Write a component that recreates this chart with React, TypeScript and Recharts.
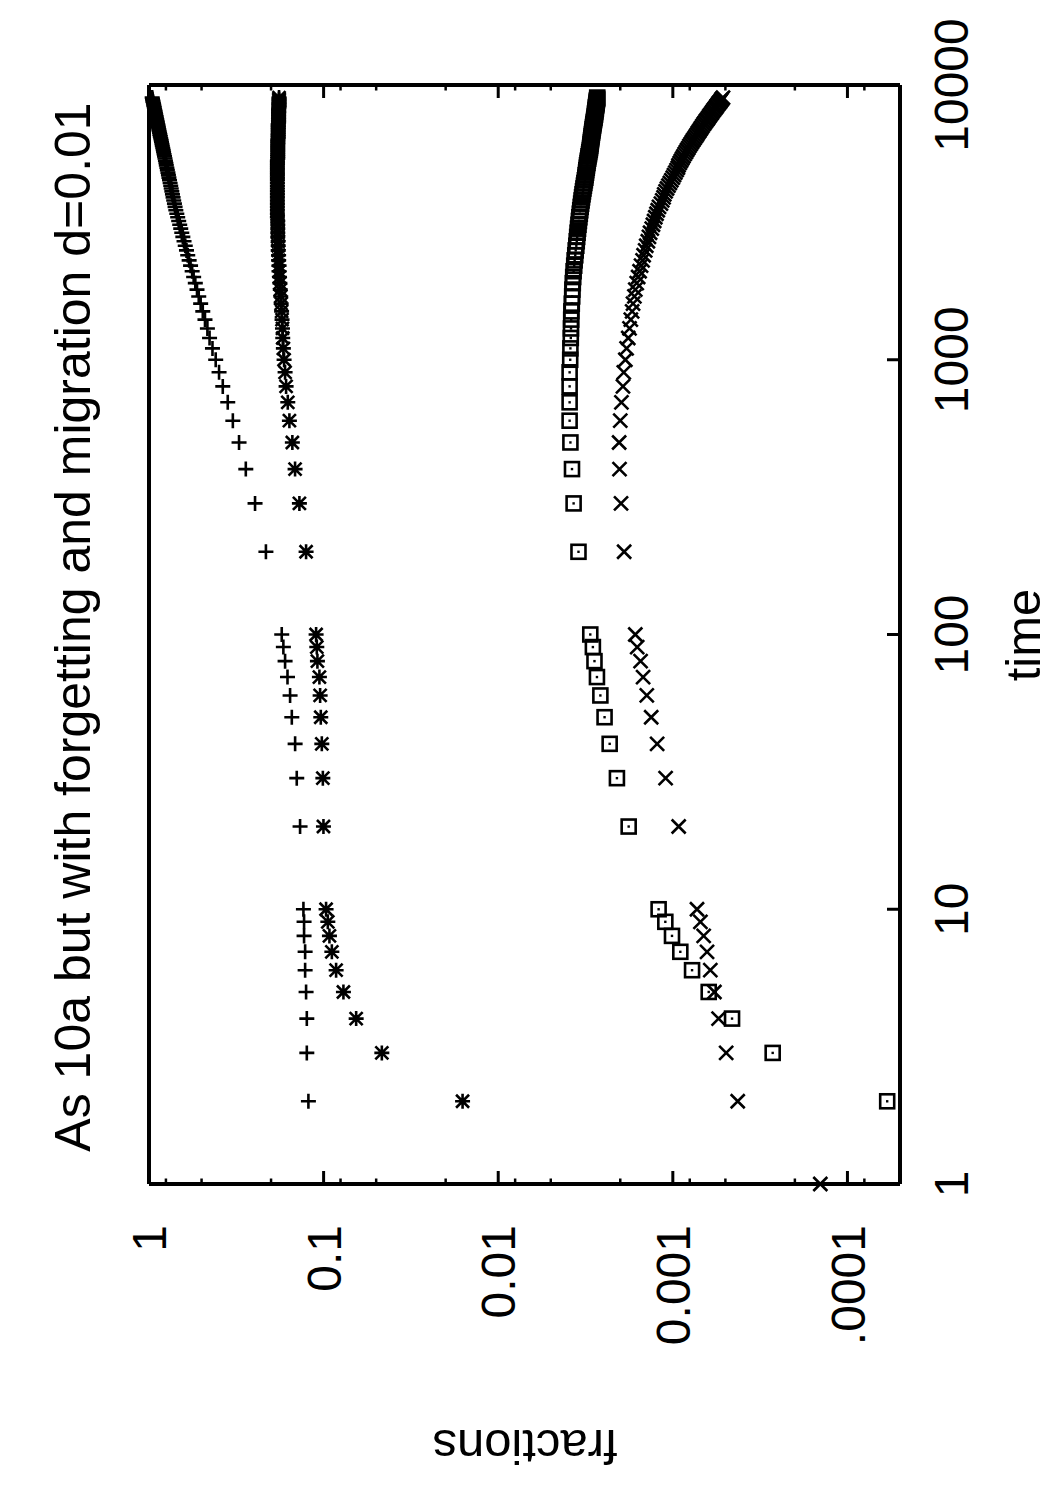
import React from 'react'
import { ScatterChart, Scatter, XAxis, YAxis } from 'recharts'

// gnuplot-style log-log plot, drawn landscape then turned a quarter turn
const FONT = '"Liberation Sans", Arial, Helvetica, sans-serif'

const TIMES = [
  1, 2, 3, 4, 5, 6, 7, 8, 9, 10,
  20, 30, 40, 50, 60, 70, 80, 90, 100,
  200, 300, 400, 500, 600, 700, 800, 900, 1000,
  1100, 1200, 1300, 1400, 1500, 1600, 1700, 1800, 1900, 2000,
  2100, 2200, 2300, 2400, 2500, 2600, 2700, 2800, 2900, 3000,
  3100, 3200, 3300, 3400, 3500, 3600, 3700, 3800, 3900, 4000,
  4100, 4200, 4300, 4400, 4500, 4600, 4700, 4800, 4900, 5000,
  5100, 5200, 5300, 5400, 5500, 5600, 5700, 5800, 5900, 6000,
  6100, 6200, 6300, 6400, 6500, 6600, 6700, 6800, 6900, 7000,
  7100, 7200, 7300, 7400, 7500, 7600, 7700, 7800, 7900, 8000,
  8100, 8200, 8300, 8400, 8500, 8600, 8700, 8800, 8900, 9000,
]

const PLUS = [
  null, 0.1222, 0.1248, 0.1248, 0.126, 0.1276, 0.1276, 0.1294, 0.1294, 0.1305,
  0.1364, 0.1425, 0.1456, 0.1521, 0.1556, 0.161, 0.1662, 0.17, 0.1737,
  0.214, 0.247, 0.279, 0.305, 0.331, 0.354, 0.378, 0.397, 0.415,
  0.433, 0.45, 0.463, 0.478, 0.492, 0.506, 0.519, 0.531, 0.543, 0.555,
  0.566, 0.578, 0.589, 0.6, 0.61, 0.62, 0.63, 0.64, 0.649, 0.658,
  0.667, 0.676, 0.685, 0.693, 0.702, 0.709, 0.715, 0.722, 0.728, 0.734,
  0.74, 0.746, 0.751, 0.757, 0.763, 0.769, 0.774, 0.779, 0.785, 0.79,
  0.796, 0.8, 0.805, 0.81, 0.815, 0.82, 0.825, 0.829, 0.834, 0.839,
  0.843, 0.848, 0.852, 0.857, 0.862, 0.866, 0.87, 0.875, 0.879, 0.883,
  0.887, 0.891, 0.895, 0.899, 0.903, 0.907, 0.911, 0.915, 0.919, 0.923,
  0.926, 0.93, 0.934, 0.937, 0.941, 0.944, 0.949, 0.952, 0.955, 0.959,
]

const STAR = [
  null, 0.016, 0.0464, 0.0651, 0.077, 0.0848, 0.0897, 0.0926, 0.0946, 0.0968,
  0.1002, 0.101, 0.1024, 0.1038, 0.1047, 0.1057, 0.1085, 0.1094, 0.1104,
  0.126, 0.1376, 0.1457, 0.151, 0.157, 0.1604, 0.164, 0.1662, 0.1684,
  0.17, 0.1714, 0.172, 0.173, 0.174, 0.175, 0.176, 0.177, 0.178, 0.179,
  0.18, 0.18, 0.181, 0.181, 0.182, 0.182, 0.182, 0.183, 0.183, 0.183,
  0.183, 0.183, 0.184, 0.184, 0.184, 0.184, 0.184, 0.184, 0.184, 0.184,
  0.184, 0.184, 0.184, 0.184, 0.184, 0.184, 0.184, 0.184, 0.184, 0.184,
  0.184, 0.184, 0.184, 0.183, 0.183, 0.183, 0.183, 0.183, 0.183, 0.183,
  0.183, 0.183, 0.183, 0.182, 0.182, 0.182, 0.182, 0.182, 0.182, 0.182,
  0.182, 0.182, 0.181, 0.181, 0.181, 0.181, 0.181, 0.181, 0.181, 0.181,
  0.181, 0.181, 0.18, 0.18, 0.18, 0.18, 0.18, 0.18, 0.18, 0.18,
]

const BOX = [
  null, 5.92e-5, 2.68e-4, 4.58e-4, 6.23e-4, 7.76e-4, 9.06e-4, 1.011e-3, 1.104e-3, 1.206e-3,
  1.79e-3, 2.09e-3, 2.3e-3, 2.46e-3, 2.6e-3, 2.72e-3, 2.81e-3, 2.87e-3, 2.97e-3,
  3.47e-3, 3.7e-3, 3.78e-3, 3.86e-3, 3.9e-3, 3.9e-3, 3.9e-3, 3.9e-3, 3.87e-3,
  3.86e-3, 3.84e-3, 3.83e-3, 3.82e-3, 3.81e-3, 3.79e-3, 3.77e-3, 3.76e-3, 3.74e-3, 3.72e-3,
  3.7e-3, 3.67e-3, 3.65e-3, 3.62e-3, 3.6e-3, 3.57e-3, 3.55e-3, 3.53e-3, 3.51e-3, 3.49e-3,
  3.47e-3, 3.45e-3, 3.43e-3, 3.41e-3, 3.39e-3, 3.37e-3, 3.35e-3, 3.33e-3, 3.31e-3, 3.29e-3,
  3.27e-3, 3.25e-3, 3.23e-3, 3.21e-3, 3.19e-3, 3.17e-3, 3.16e-3, 3.14e-3, 3.13e-3, 3.11e-3,
  3.1e-3, 3.08e-3, 3.07e-3, 3.05e-3, 3.04e-3, 3.02e-3, 3.01e-3, 2.99e-3, 2.98e-3, 2.97e-3,
  2.96e-3, 2.95e-3, 2.94e-3, 2.93e-3, 2.92e-3, 2.91e-3, 2.9e-3, 2.89e-3, 2.88e-3, 2.87e-3,
  2.86e-3, 2.85e-3, 2.84e-3, 2.83e-3, 2.82e-3, 2.81e-3, 2.8e-3, 2.79e-3, 2.79e-3, 2.78e-3,
  2.77e-3, 2.76e-3, 2.76e-3, 2.75e-3, 2.74e-3, 2.73e-3, 2.73e-3, 2.72e-3, 2.71e-3, 2.71e-3,
]

const CROSS = [
  1.43e-4, 4.25e-4, 4.95e-4, 5.47e-4, 5.78e-4, 6.1e-4, 6.37e-4, 6.66e-4, 6.95e-4, 7.27e-4,
  9.26e-4, 1.1e-3, 1.23e-3, 1.33e-3, 1.41e-3, 1.48e-3, 1.53e-3, 1.6e-3, 1.64e-3,
  1.9e-3, 1.98e-3, 2.02e-3, 2.03e-3, 2.0e-3, 1.97e-3, 1.93e-3, 1.91e-3, 1.87e-3,
  1.84e-3, 1.8e-3, 1.77e-3, 1.74e-3, 1.71e-3, 1.69e-3, 1.66e-3, 1.64e-3, 1.61e-3, 1.58e-3,
  1.55e-3, 1.52e-3, 1.49e-3, 1.47e-3, 1.44e-3, 1.42e-3, 1.39e-3, 1.37e-3, 1.35e-3, 1.32e-3,
  1.3e-3, 1.28e-3, 1.26e-3, 1.24e-3, 1.22e-3, 1.2e-3, 1.17e-3, 1.15e-3, 1.13e-3, 1.12e-3,
  1.1e-3, 1.08e-3, 1.06e-3, 1.04e-3, 1.02e-3, 1.0e-3, 9.85e-4, 9.68e-4, 9.52e-4, 9.36e-4,
  9.28e-4, 9.13e-4, 8.98e-4, 8.84e-4, 8.7e-4, 8.56e-4, 8.42e-4, 8.29e-4, 8.15e-4, 8.03e-4,
  7.9e-4, 7.77e-4, 7.65e-4, 7.52e-4, 7.4e-4, 7.28e-4, 7.18e-4, 7.06e-4, 6.96e-4, 6.86e-4,
  6.76e-4, 6.66e-4, 6.56e-4, 6.46e-4, 6.36e-4, 6.26e-4, 6.18e-4, 6.09e-4, 6.0e-4, 5.92e-4,
  5.84e-4, 5.75e-4, 5.67e-4, 5.6e-4, 5.52e-4, 5.45e-4, 5.36e-4, 5.3e-4, 5.23e-4, 5.16e-4,
]

const X_MAJOR = [1, 10, 100, 1000, 10000]
const X_MINOR = [
  2, 3, 4, 5, 6, 7, 8, 9, 20, 30, 40, 50, 60, 70, 80, 90,
  200, 300, 400, 500, 600, 700, 800, 900, 2000, 3000, 4000, 5000, 6000, 7000, 8000, 9000,
]
const Y_MAJOR = [1, 0.1, 0.01, 0.001, 0.0001]
const Y_MAJOR_LABELS = ['1', '0.1', '0.01', '0.001', '.0001']
const Y_MINOR = [0.8, 0.5, 0.2, 0.08, 0.05, 0.02, 0.008, 0.005, 0.002, 0.0008, 0.0005, 0.0002, 0.00008]

const toPoints = (vals: (number | null)[]) =>
  TIMES.map((t, i) => ({ t, v: vals[i] })).filter((p) => p.v != null)

const STROKE = '#000'
const SW = 2.6

const PlusMark = ({ cx, cy }: any) => (
  <path d={`M${cx - 7.5},${cy}H${cx + 7.5}M${cx},${cy - 7.5}V${cy + 7.5}`} stroke={STROKE} strokeWidth={SW} fill="none" />
)
const CrossMark = ({ cx, cy }: any) => (
  <path d={`M${cx - 7},${cy - 7}L${cx + 7},${cy + 7}M${cx - 7},${cy + 7}L${cx + 7},${cy - 7}`} stroke={STROKE} strokeWidth={SW} fill="none" />
)
const StarMark = ({ cx, cy }: any) => (
  <path
    d={`M${cx - 7.5},${cy}H${cx + 7.5}M${cx},${cy - 7.5}V${cy + 7.5}M${cx - 6.5},${cy - 6.5}L${cx + 6.5},${cy + 6.5}M${cx - 6.5},${cy + 6.5}L${cx + 6.5},${cy - 6.5}`}
    stroke={STROKE}
    strokeWidth={SW}
    fill="none"
  />
)
const BoxMark = ({ cx, cy }: any) => (
  <g>
    <rect x={cx - 7} y={cy - 7} width={14} height={14} stroke={STROKE} strokeWidth={SW} fill="none" />
    <rect x={cx - 1.2} y={cy - 1.2} width={2.4} height={2.4} fill={STROKE} />
  </g>
)

const EmptyTick = () => <g />

const XLabel = (p: any) => (
  <text x={p.x} y={968} textAnchor="middle" fontSize={48} fontFamily={FONT} fill="#000">
    {p.payload.value}
  </text>
)
const YLabel = (p: any) => (
  <text x={275} y={p.y} dy="0.36em" textAnchor="end" fontSize={48} fontFamily={FONT} fill="#000">
    {Y_MAJOR_LABELS[p.index] ?? p.payload.value}
  </text>
)

const frame = { stroke: '#000', strokeWidth: 4 }
const majorLine = { stroke: '#000', strokeWidth: 3 }
const minorLine = { stroke: '#000', strokeWidth: 2.5 }

export default function App() {
  return (
    <div style={{ position: 'absolute', left: 0, top: 0, width: 1050, height: 1500, background: '#fff', overflow: 'hidden' }}>
      <div
        style={{
          position: 'absolute', left: 0, top: 0, width: 1500, height: 1050,
          transform: 'translate(0px, 1500px) rotate(-90deg)', transformOrigin: '0 0',
        }}
      >
        <ScatterChart width={1500} height={1050} margin={{ top: 147, right: 83, bottom: 148, left: 314 }}>
          <XAxis xAxisId="x" dataKey="t" type="number" scale="log" domain={[1, 10000]}
            ticks={X_MAJOR} interval={0} height={1} tickSize={-13} axisLine={frame} tickLine={majorLine} tick={XLabel} />
          <XAxis xAxisId="xm" type="number" scale="log" domain={[1, 10000]} allowDataOverflow
            ticks={X_MINOR} interval={0} height={1} tickSize={-6.5} axisLine={false} tickLine={minorLine} tick={EmptyTick} />
          <XAxis xAxisId="xt" orientation="top" type="number" scale="log" domain={[1, 10000]} allowDataOverflow
            ticks={X_MAJOR} interval={0} height={1} tickSize={-13} axisLine={frame} tickLine={majorLine} tick={EmptyTick} />
          <XAxis xAxisId="xtm" orientation="top" type="number" scale="log" domain={[1, 10000]} allowDataOverflow
            ticks={X_MINOR} interval={0} height={1} tickSize={-6.5} axisLine={false} tickLine={minorLine} tick={EmptyTick} />
          <YAxis yAxisId="y" dataKey="v" type="number" scale="log" domain={[0.00005, 1]}
            ticks={Y_MAJOR} interval={0} width={1} tickSize={-13} axisLine={frame} tickLine={majorLine} tick={YLabel} />
          <YAxis yAxisId="ym" type="number" scale="log" domain={[0.00005, 1]} allowDataOverflow
            ticks={Y_MINOR} interval={0} width={1} tickSize={-6.5} axisLine={false} tickLine={minorLine} tick={EmptyTick} />
          <YAxis yAxisId="yr" orientation="right" type="number" scale="log" domain={[0.00005, 1]} allowDataOverflow
            ticks={Y_MAJOR} interval={0} width={1} tickSize={-13} axisLine={frame} tickLine={majorLine} tick={EmptyTick} />
          <YAxis yAxisId="yrm" orientation="right" type="number" scale="log" domain={[0.00005, 1]} allowDataOverflow
            ticks={Y_MINOR} interval={0} width={1} tickSize={-6.5} axisLine={false} tickLine={minorLine} tick={EmptyTick} />

          <Scatter xAxisId="x" yAxisId="y" data={toPoints(PLUS)} shape={PlusMark} isAnimationActive={false} />
          <Scatter xAxisId="x" yAxisId="y" data={toPoints(CROSS)} shape={CrossMark} isAnimationActive={false} />
          <Scatter xAxisId="x" yAxisId="y" data={toPoints(STAR)} shape={StarMark} isAnimationActive={false} />
          <Scatter xAxisId="x" yAxisId="y" data={toPoints(BOX)} shape={BoxMark} isAnimationActive={false} />

          <text x={873} y={90} textAnchor="middle" fontSize={50} fontFamily={FONT} fill="#000">
            As 10a but with forgetting and migration d=0.01
          </text>
          <text x={865} y={1040} textAnchor="middle" fontSize={49} fontFamily={FONT} fill="#000">
            time
          </text>
          <text x={70} y={525} transform="rotate(-90 70 525)" textAnchor="middle" fontSize={49} fontFamily={FONT} fill="#000">
            fractions
          </text>
        </ScatterChart>
      </div>
    </div>
  )
}
